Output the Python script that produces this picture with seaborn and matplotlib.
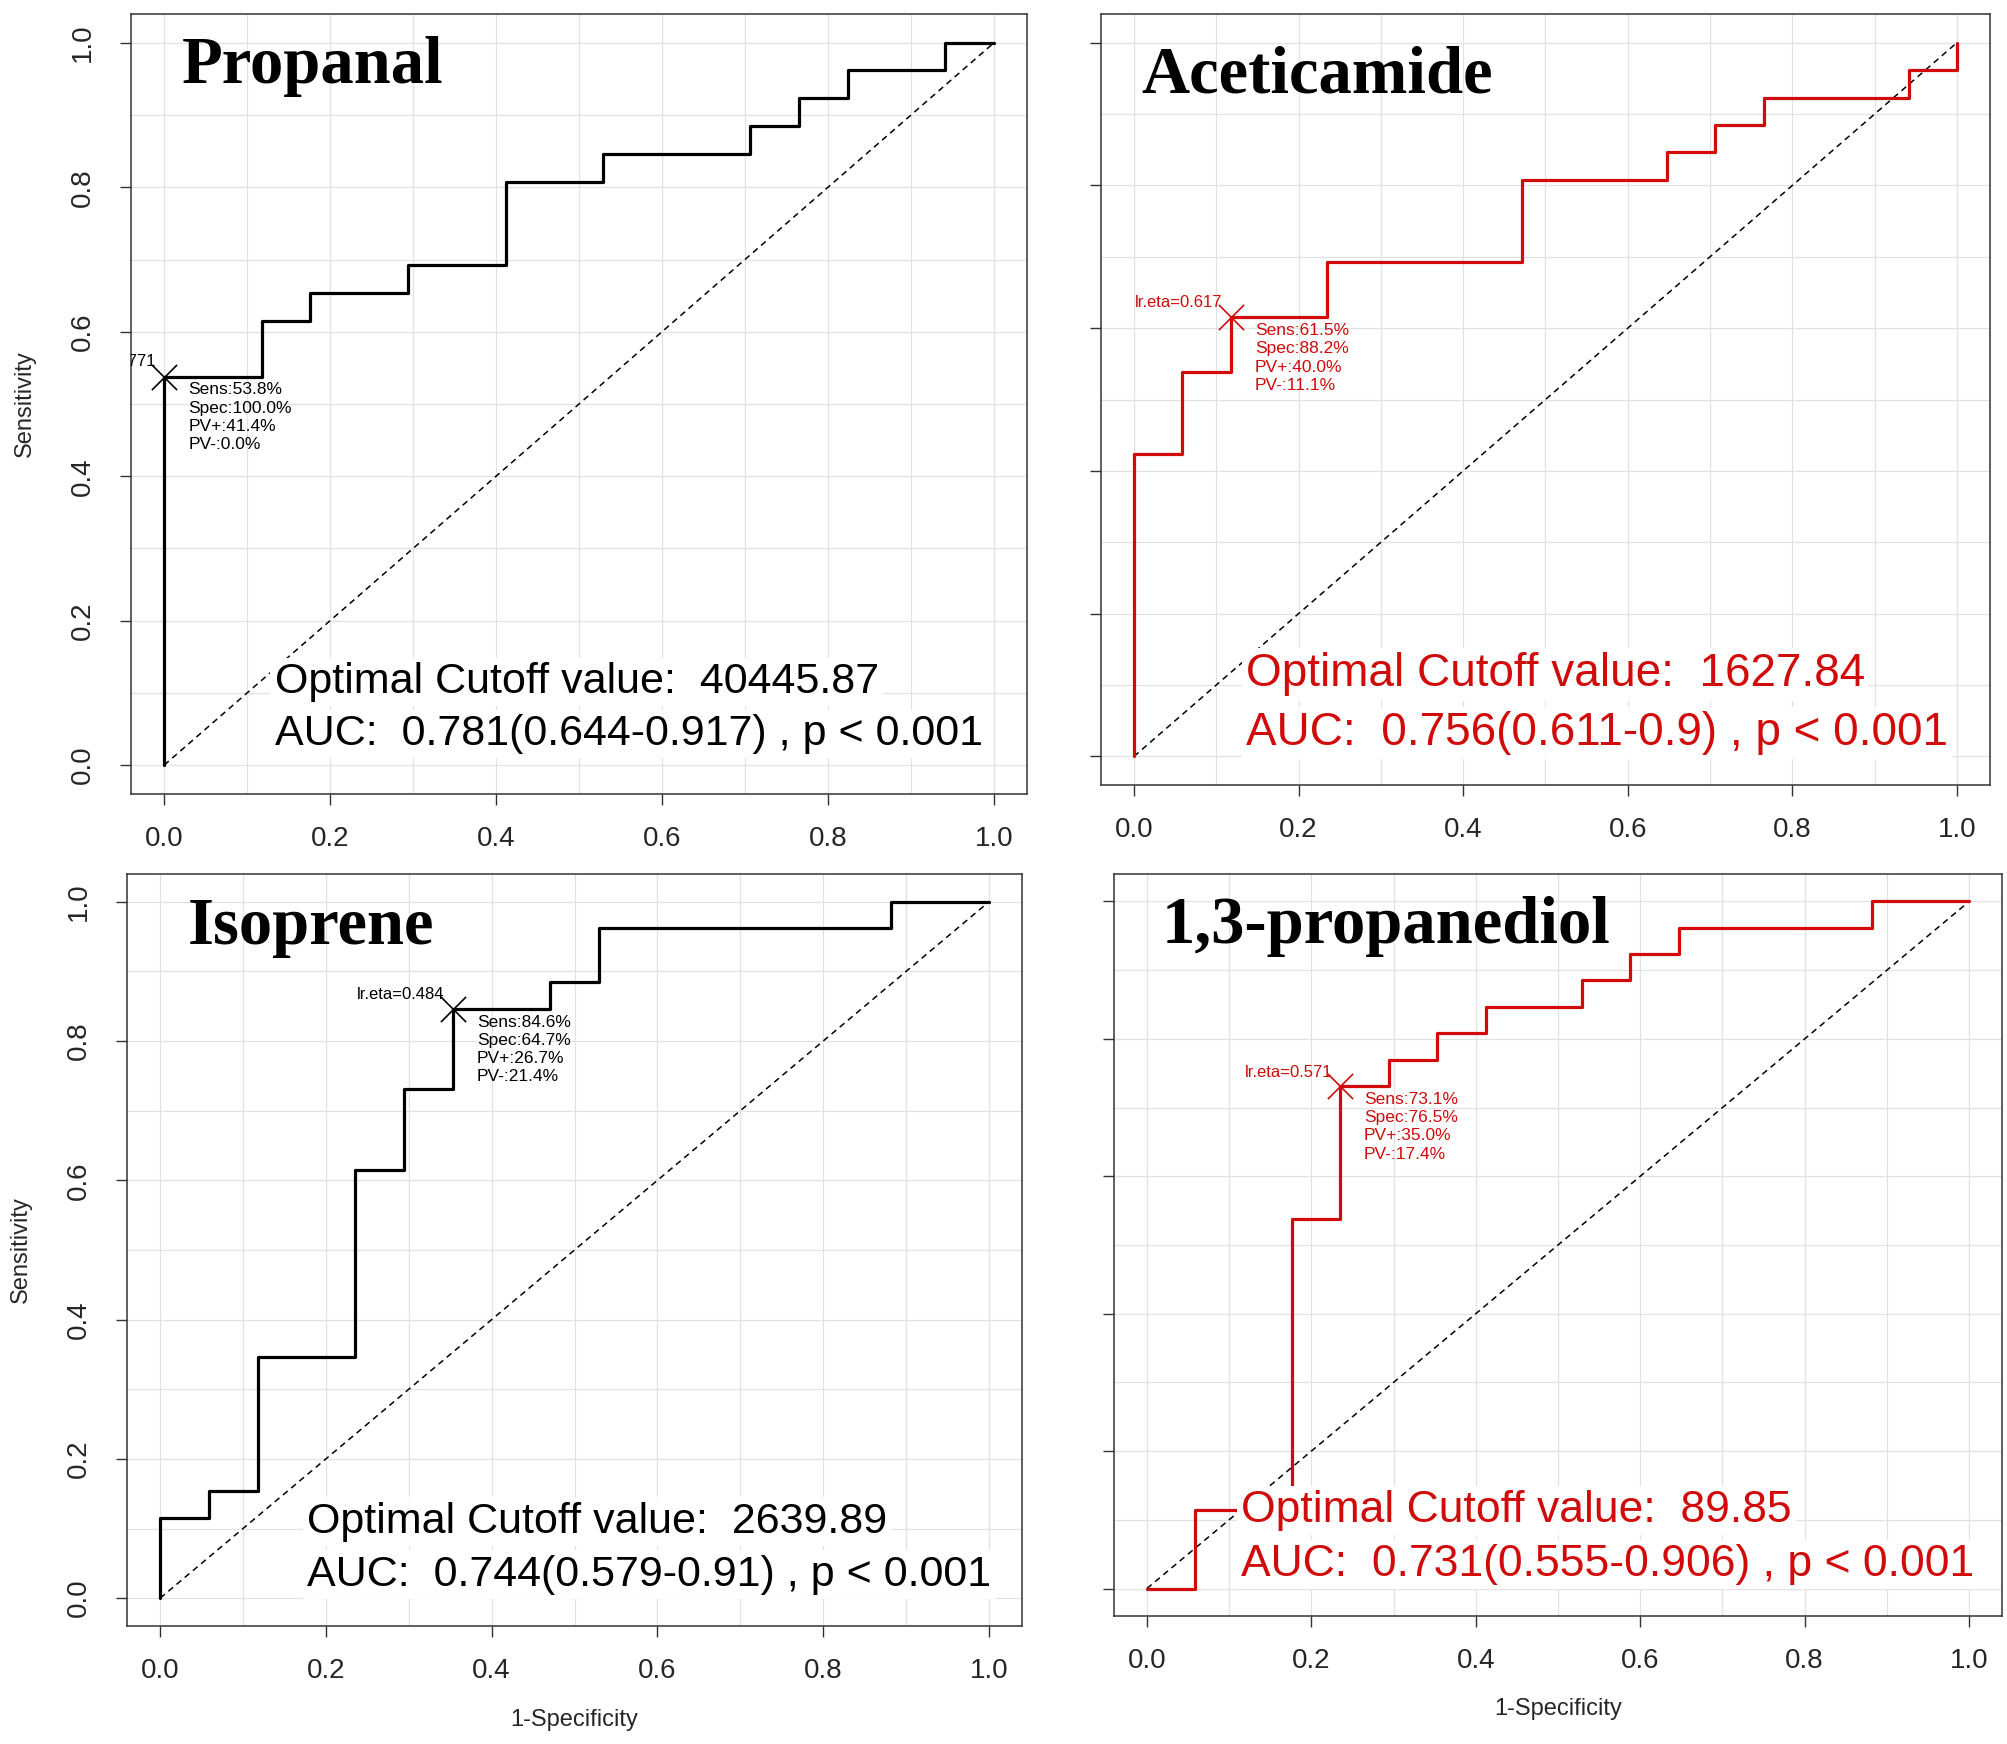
import numpy as np
import pandas as pd
import seaborn as sns
import matplotlib.pyplot as plt

# ROC corner points (1-specificity, sensitivity)
propanal_fpr = [0, 0, 0.118, 0.176, 0.294, 0.412, 0.529, 0.706, 0.765, 0.824, 0.941, 1.0]
propanal_tpr = [0, 0.538, 0.615, 0.654, 0.692, 0.808, 0.846, 0.885, 0.923, 0.962, 1.0, 1.0]
aceticamide_fpr = [0, 0, 0.059, 0.118, 0.235, 0.471, 0.647, 0.706, 0.765, 0.941, 1.0]
aceticamide_tpr = [0, 0.423, 0.538, 0.615, 0.692, 0.808, 0.846, 0.885, 0.923, 0.962, 1.0]
isoprene_fpr = [0, 0, 0.059, 0.118, 0.235, 0.294, 0.353, 0.471, 0.529, 0.882, 1.0]
isoprene_tpr = [0, 0.115, 0.154, 0.346, 0.615, 0.731, 0.846, 0.885, 0.962, 1.0, 1.0]
propanediol_fpr = [0, 0.059, 0.176, 0.235, 0.294, 0.353, 0.412, 0.529, 0.588, 0.647, 0.882, 1.0]
propanediol_tpr = [0, 0.115, 0.538, 0.731, 0.769, 0.808, 0.846, 0.885, 0.923, 0.962, 1.0, 1.0]

names = ['Propanal', 'Aceticamide', 'Isoprene', '1,3-propanediol']
cut_fpr = [0.0, 0.118, 0.353, 0.235]
cut_tpr = [0.538, 0.615, 0.846, 0.731]
lr_eta = ['0.771', '0.617', '0.484', '0.571']
sens = ['53.8%', '61.5%', '84.6%', '73.1%']
spec = ['100.0%', '88.2%', '64.7%', '76.5%']
pv_pos = ['41.4%', '40.0%', '26.7%', '35.0%']
pv_neg = ['0.0%', '11.1%', '21.4%', '17.4%']
cutoff_values = ['40445.87', '1627.84', '2639.89', '89.85']
auc_ci = ['0.781(0.644-0.917)', '0.756(0.611-0.9)', '0.744(0.579-0.91)', '0.731(0.555-0.906)']

curves = [(propanal_fpr, propanal_tpr), (aceticamide_fpr, aceticamide_tpr),
          (isoprene_fpr, isoprene_tpr), (propanediol_fpr, propanediol_tpr)]

RED = '#d10a0a'
W, H = 2008, 1744

# layout per panel: box in pixels (left, right, top, bottom), colour, title xy, stats text
panels = [
    dict(box=(131, 1027, 14, 794), color='black', title=(0.021, 0.944),
         stat=(0.133, 0.100, 0.028), fs=31, ylab=True, xlab=False),
    dict(box=(1101, 1990, 14, 785), color=RED, title=(0.009, 0.930),
         stat=(0.136, 0.098, 0.016), fs=33, ylab=False, xlab=False),
    dict(box=(127, 1022, 874, 1626), color='black', title=(0.033, 0.940),
         stat=(0.177, 0.094, 0.018), fs=31, ylab=True, xlab=True),
    dict(box=(1114, 2002, 874, 1616), color=RED, title=(0.018, 0.939),
         stat=(0.115, 0.097, 0.018), fs=32, ylab=False, xlab=True),
]

sns.set_style('white')
plt.rcParams['font.family'] = ['Liberation Sans', 'DejaVu Sans']

fig = plt.figure(figsize=(W / 100, H / 100), dpi=100)

for i, p in enumerate(panels):
    l, r, t, b = p['box']
    ax = fig.add_axes([l / W, 1 - b / H, (r - l) / W, (b - t) / H])
    c = p['color']

    ax.set_xlim(-0.04, 1.04)
    ax.set_ylim(-0.04, 1.04)
    ax.set_xticks(np.arange(0, 1.01, 0.2))
    ax.set_yticks(np.arange(0, 1.01, 0.2))
    ax.set_xticks(np.arange(0.1, 1.0, 0.2), minor=True)
    ax.set_yticks(np.arange(0.1, 1.0, 0.2), minor=True)
    ax.set_xticklabels(['0.0', '0.2', '0.4', '0.6', '0.8', '1.0'])
    if p['ylab']:
        ax.set_yticklabels(['0.0', '0.2', '0.4', '0.6', '0.8', '1.0'],
                           rotation=90, va='center')
    else:
        ax.set_yticklabels([])
    ax.grid(True, which='both', color='#e2e2e2', linewidth=0.9)
    ax.tick_params(axis='both', which='major', direction='out', length=8, width=1,
                   color='#333333', labelsize=20, bottom=True, left=True)
    ax.tick_params(axis='x', which='major', pad=15)
    ax.tick_params(axis='y', which='major', pad=17)
    ax.tick_params(which='minor', length=0)
    for s in ax.spines.values():
        s.set_color('#333333')
        s.set_linewidth(1.1)

    # chance line and ROC curve
    ax.plot([0, 1], [0, 1], color='black', linestyle=(0, (4, 3)), linewidth=1.1, zorder=2)
    fpr, tpr = curves[i]
    df = pd.DataFrame({'fpr': fpr, 'tpr': tpr})
    sns.lineplot(data=df, x='fpr', y='tpr', ax=ax, color=c, linewidth=2.3,
                 drawstyle='steps-post', sort=False, estimator=None, zorder=3)
    sns.scatterplot(x=[cut_fpr[i]], y=[cut_tpr[i]], ax=ax, marker='x', s=330,
                    color=c, linewidth=1.2, zorder=4)

    ax.text(cut_fpr[i] - 0.01, cut_tpr[i] + 0.014, 'lr.eta=' + lr_eta[i],
            ha='right', va='baseline', fontsize=12, color=c, clip_on=True)
    info = 'Sens:%s\nSpec:%s\nPV+:%s\nPV-:%s' % (sens[i], spec[i], pv_pos[i], pv_neg[i])
    ax.text(cut_fpr[i] + 0.029, cut_tpr[i] - 0.008, info, ha='left', va='top',
            fontsize=12.5, color=c, linespacing=1.27)

    ax.text(p['title'][0], p['title'][1], names[i], ha='left', va='baseline',
            fontsize=48, fontweight='bold', family='Liberation Serif', color='black')

    sx, sy1, sy2 = p['stat']
    box = dict(facecolor='white', edgecolor='none', pad=3)
    ax.text(sx, sy1, 'Optimal Cutoff value:  ' + cutoff_values[i], ha='left',
            va='baseline', fontsize=p['fs'], color=c, bbox=box, zorder=5)
    ax.text(sx, sy2, 'AUC:  ' + auc_ci[i] + ' , p < 0.001', ha='left',
            va='baseline', fontsize=p['fs'], color=c, bbox=box, zorder=5)

    ax.set_xlabel('1-Specificity' if p['xlab'] else '', fontsize=17)
    ax.xaxis.set_label_coords(0.5, -0.11)
    ax.set_ylabel('Sensitivity' if p['ylab'] else '', fontsize=17)
    ax.yaxis.set_label_coords(-0.106, 0.5)

fig.savefig('out.png', dpi=100)
